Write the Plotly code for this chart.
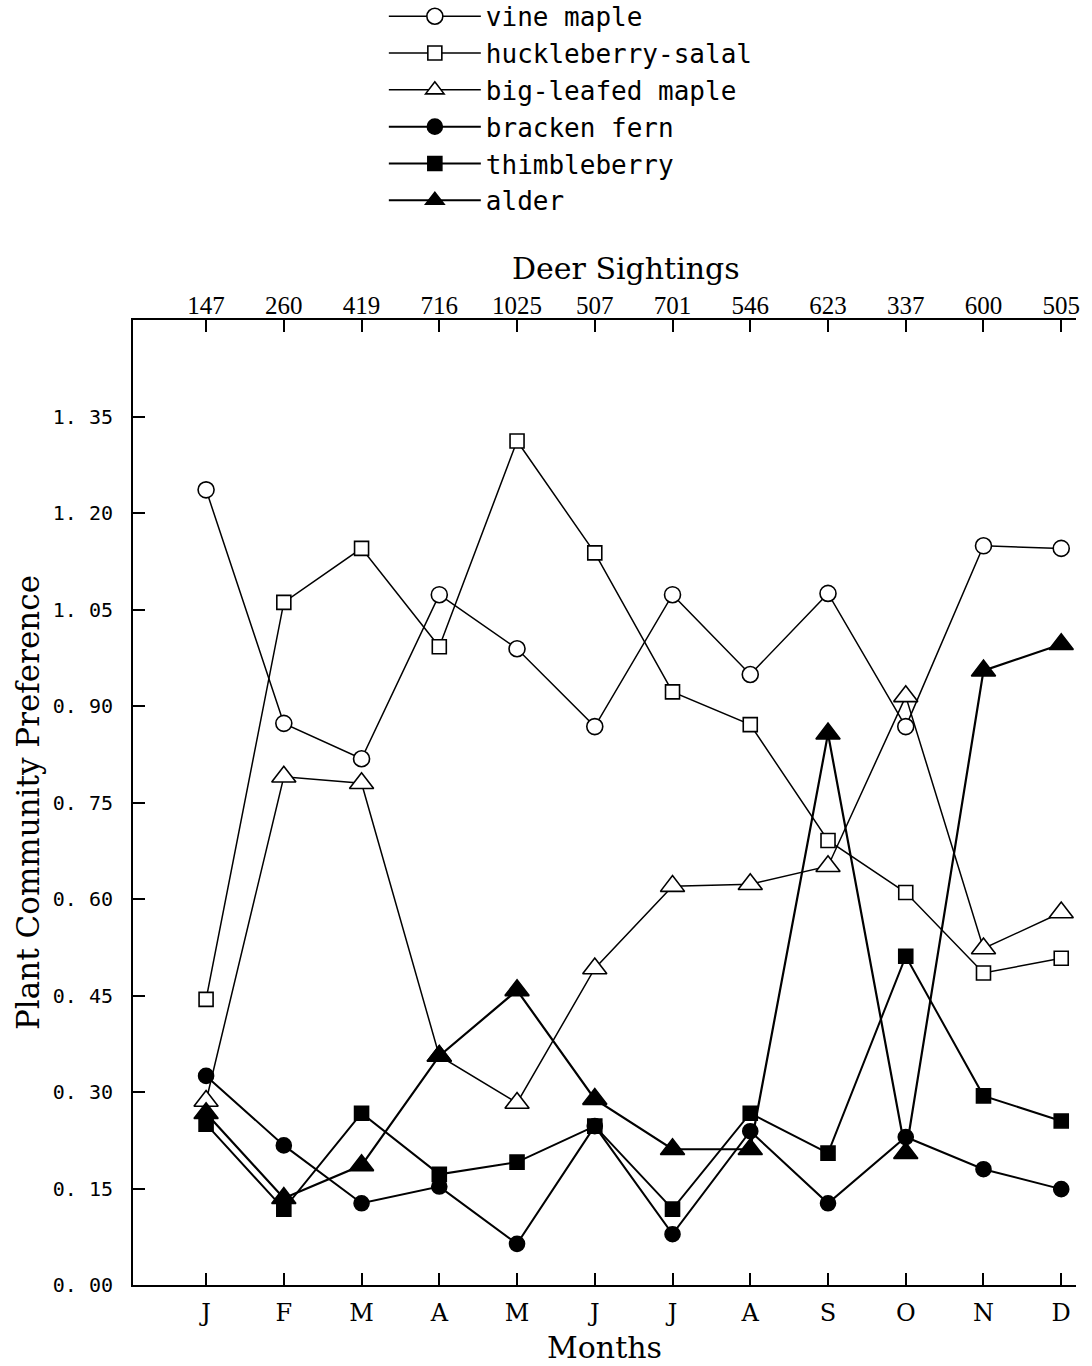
import plotly.graph_objects as go

# ---------------- data ----------------
months = ["J", "F", "M", "A", "M", "J", "J", "A", "S", "O", "N", "D"]
deer_sightings = ["147", "260", "419", "716", "1025", "507", "701", "546", "623", "337", "600", "505"]

vine_maple = [1.236, 0.873, 0.818, 1.073, 0.989, 0.868, 1.073, 0.949, 1.075, 0.868, 1.149, 1.145]
huckleberry_salal = [0.444, 1.061, 1.145, 0.992, 1.312, 1.138, 0.922, 0.871, 0.691, 0.610, 0.485, 0.508]
big_leafed_maple = [0.286, 0.790, 0.780, 0.356, 0.283, 0.492, 0.620, 0.623, 0.651, 0.915, 0.523, 0.579]
bracken_fern = [0.325, 0.217, 0.127, 0.153, 0.064, 0.247, 0.079, 0.239, 0.127, 0.230, 0.180, 0.149]
thimbleberry = [0.250, 0.118, 0.267, 0.172, 0.191, 0.247, 0.118, 0.267, 0.205, 0.511, 0.294, 0.255]
alder = [0.267, 0.135, 0.186, 0.356, 0.458, 0.289, 0.211, 0.211, 0.857, 0.205, 0.955, 0.996]

y_ticks = [0.00, 0.15, 0.30, 0.45, 0.60, 0.75, 0.90, 1.05, 1.20, 1.35]
y_ticktext = [f"{v:.2f}".replace(".", ". ") for v in y_ticks]

series_names = ["vine maple", "huckleberry-salal", "big-leafed maple",
                "bracken fern", "thimbleberry", "alder"]
series_values = [vine_maple, huckleberry_salal, big_leafed_maple,
                 bracken_fern, thimbleberry, alder]

# ---------------- styles ----------------
styles = [
    dict(symbol="circle", fill="white", size=16, lw=1.5),
    dict(symbol="square", fill="white", size=14, lw=1.5),
    dict(symbol="triangle-up", fill="white", size=21, lw=1.5),
    dict(symbol="circle", fill="black", size=15, lw=2.0),
    dict(symbol="square", fill="black", size=14, lw=2.0),
    dict(symbol="triangle-up", fill="black", size=21, lw=2.2),
]

x_idx = list(range(len(months)))

fig = go.Figure()
for name, vals, st in zip(series_names, series_values, styles):
    fig.add_trace(go.Scatter(
        x=x_idx, y=vals, name=name, mode="lines+markers",
        line=dict(color="black", width=st["lw"]),
        marker=dict(symbol=st["symbol"], size=st["size"], color=st["fill"],
                    line=dict(color="black", width=1.6)),
        cliponaxis=False,
    ))

# invisible trace to activate the top (deer sightings) axis
fig.add_trace(go.Scatter(x=x_idx, y=[None] * len(x_idx), xaxis="x2", yaxis="y",
                         showlegend=False, hoverinfo="skip", mode="lines"))

serif = "DejaVu Serif"
mono = "DejaVu Sans Mono"
xr = [-0.94, 11.19]

fig.update_layout(
    width=1092, height=1366,
    paper_bgcolor="white", plot_bgcolor="white",
    margin=dict(l=133, r=16, t=320, b=81, autoexpand=False),
    showlegend=True,
    legend=dict(
        x=0.266, y=1.339, xanchor="left", yanchor="top",
        font=dict(family=mono, size=26, color="black"),
        bgcolor="rgba(0,0,0,0)", borderwidth=0,
        itemwidth=92, tracegroupgap=0,
    ),
    xaxis=dict(
        range=xr, tickmode="array", tickvals=x_idx, ticktext=months,
        ticks="inside", ticklen=12, tickwidth=1.5, tickcolor="black",
        showline=True, linecolor="black", linewidth=2, showgrid=False, zeroline=False,
        tickfont=dict(family=serif, size=24, color="black"),
        ticklabelstandoff=5,
        title=dict(text="Months", font=dict(family=serif, size=30, color="black"), standoff=11),
        automargin=False,
    ),
    xaxis2=dict(
        overlaying="x", side="top", range=xr, tickmode="array", tickvals=x_idx,
        ticktext=deer_sightings,
        ticks="inside", ticklen=12, tickwidth=1.5, tickcolor="black",
        showline=True, linecolor="black", linewidth=2, showgrid=False, zeroline=False,
        tickfont=dict(family="Liberation Serif", size=25, color="black"),
        ticklabelstandoff=-6,
        automargin=False,
    ),
    yaxis=dict(
        range=[0, 1.5], tickmode="array", tickvals=y_ticks, ticktext=y_ticktext,
        ticks="inside", ticklen=12, tickwidth=1.5, tickcolor="black",
        showline=True, linecolor="black", linewidth=2, showgrid=False, zeroline=False,
        tickfont=dict(family=mono, size=20, color="black"),
        ticklabelstandoff=14,
        title=dict(text="Plant Community Preference",
                   font=dict(family=serif, size=31, color="black"), standoff=4),
        automargin=False,
    ),
    annotations=[dict(
        text="Deer Sightings", xref="paper", yref="paper", x=0.523, y=1.0,
        xanchor="center", yanchor="middle", yshift=52, showarrow=False,
        font=dict(family=serif, size=30, color="black"),
    )],
)

fig.write_html("out.html", config={"displayModeBar": False},
               post_script="document.body.style.margin='0px';")
